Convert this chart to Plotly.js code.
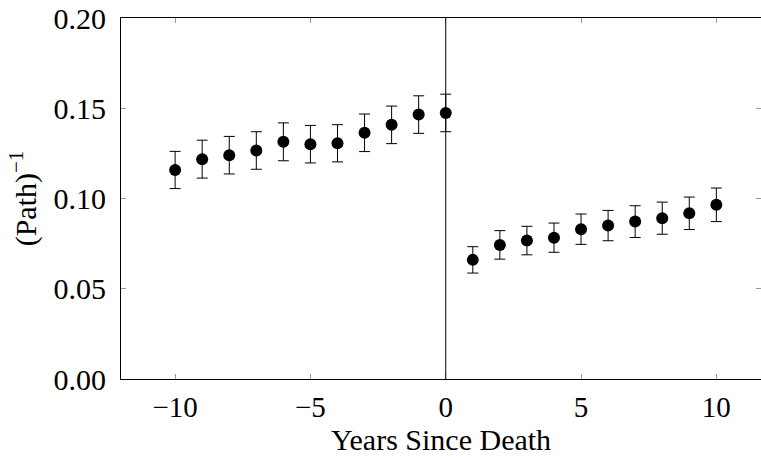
<!DOCTYPE html>
<html>
<head>
<meta charset="utf-8">
<script src="https://cdn.plot.ly/plotly-3.0.1.min.js"></script>
<style>html,body{margin:0;padding:0;background:#fff;}</style>
</head>
<body>
<div id="chart" style="width:761px;height:456px;"></div>
<script>
const yearsBefore = [-10, -9, -8, -7, -6, -5, -4, -3, -2, -1, 0];
const valuesBefore = [0.1158, 0.1218, 0.1240, 0.1266, 0.1314, 0.1301, 0.1306, 0.1364, 0.1408, 0.1465, 0.1474];
const errorsBefore = [0.0103, 0.0105, 0.0104, 0.0104, 0.0105, 0.0104, 0.0103, 0.0104, 0.0104, 0.0104, 0.0104];
const yearsAfter = [1, 2, 3, 4, 5, 6, 7, 8, 9, 10];
const valuesAfter = [0.0660, 0.0743, 0.0767, 0.0783, 0.0830, 0.0850, 0.0872, 0.0891, 0.0918, 0.0965];
const errorsAfter = [0.0073, 0.0079, 0.0079, 0.0081, 0.0084, 0.0084, 0.0088, 0.0089, 0.0090, 0.0093];
const xTicks = [-10, -5, 0, 5, 10];
const xTickText = ['\u221210', '\u22125', '0', '5', '10'];
const yTicks = [0, 0.05, 0.10, 0.15, 0.20];
const yTickText = ['0.00', '0.05', '0.10', '0.15', '0.20'];

const FONT = "'Liberation Serif', 'Times New Roman', serif";

function series(x, y, e) {
  return {
    x: x, y: y, type: 'scatter', mode: 'markers',
    marker: {color: '#000', size: 12},
    error_y: {type: 'data', array: e, visible: true, color: '#000', thickness: 1, width: 5.5},
    showlegend: false, hoverinfo: 'none'
  };
}

const data = [series(yearsBefore, valuesBefore, errorsBefore), series(yearsAfter, valuesAfter, errorsAfter)];

const layout = {
  width: 761, height: 456,
  margin: {l: 121, r: 0, t: 18, b: 77},
  paper_bgcolor: '#fff', plot_bgcolor: '#fff',
  font: {family: FONT, size: 30, color: '#000'},
  xaxis: {
    range: [-12, 11.65], showgrid: false, zeroline: false,
    tickmode: 'array', tickvals: xTicks, ticktext: xTickText,
    tickfont: {family: FONT, size: 29, color: '#000'},
    ticks: 'inside', ticklen: 5, tickcolor: '#999', tickwidth: 1,
    showline: true, linecolor: '#000', linewidth: 1, mirror: 'ticks',
    ticklabelstandoff: 2,
    title: {text: 'Years Since Death', font: {family: FONT, size: 30, color: '#000'}, standoff: 2}
  },
  yaxis: {
    range: [0, 0.2], showgrid: false, zeroline: false,
    tickmode: 'array', tickvals: yTicks, ticktext: yTickText,
    tickfont: {family: FONT, size: 30, color: '#000'},
    ticks: 'inside', ticklen: 5, tickcolor: '#999', tickwidth: 1,
    showline: true, linecolor: '#000', linewidth: 1, mirror: 'ticks',
    ticklabelstandoff: 8,
    title: {text: '(Path)<sup>\u22121</sup>', font: {family: FONT, size: 30, color: '#000'}, standoff: 8}
  },
  shapes: [{type: 'line', xref: 'x', yref: 'paper', x0: 0, x1: 0, y0: 0, y1: 1, line: {color: '#000', width: 1}}]
};

Plotly.newPlot('chart', data, layout, {staticPlot: true, displayModeBar: false});
</script>
</body>
</html>
